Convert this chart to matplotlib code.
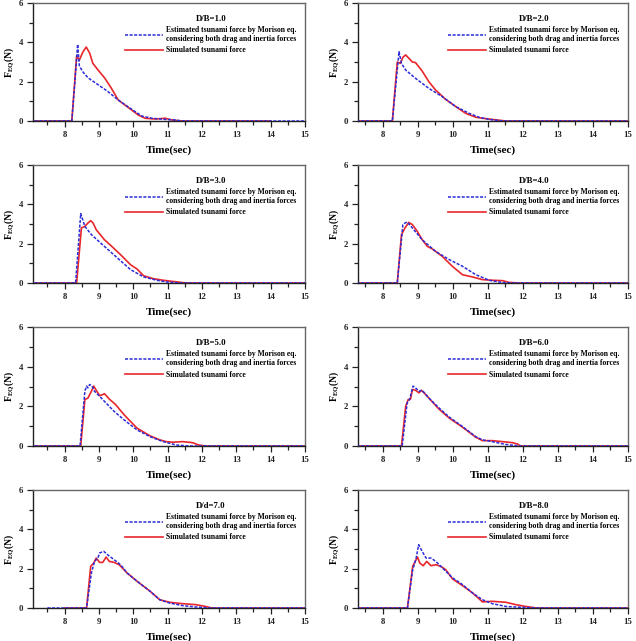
import matplotlib
matplotlib.use("Agg")
import matplotlib.pyplot as plt
from matplotlib.ticker import MultipleLocator

plt.rcParams['font.family'] = ['Liberation Serif', 'DejaVu Serif']
plt.rcParams['font.weight'] = 'bold'
plt.rcParams['mathtext.fontset'] = 'custom'
plt.rcParams['mathtext.rm'] = 'Liberation Serif:bold'
plt.rcParams['mathtext.it'] = 'Liberation Serif:bold'
plt.rcParams['mathtext.bf'] = 'Liberation Serif:bold'

titles = ["D/B=1.0", "D/B=2.0", "D/B=3.0", "D/B=4.0",
          "D/B=5.0", "D/B=6.0", "D/d=7.0", "D/B=8.0"]

# Estimated (Morison) force
est_t = [
    [7.0, 8.21, 8.30, 8.38, 8.43, 8.53, 8.68, 8.97, 9.26, 9.56, 9.95, 10.25, 10.54, 10.93, 11.23, 11.42, 15.0],
    [7.0, 8.28, 8.47, 8.54, 8.66, 8.94, 9.32, 9.70, 10.09, 10.47, 10.75, 11.04, 11.42, 15.0],
    [7.0, 8.32, 8.47, 8.59, 8.78, 9.16, 9.54, 9.92, 10.30, 10.68, 11.06, 11.44, 15.0],
    [7.0, 8.42, 8.58, 8.64, 8.70, 8.85, 9.13, 9.51, 9.90, 10.28, 10.66, 11.04, 11.42, 11.8, 15.0],
    [7.0, 8.45, 8.59, 8.64, 8.68, 8.73, 8.80, 8.87, 9.02, 9.16, 9.44, 9.73, 10.11, 10.49, 10.87, 11.25, 11.63, 15.0],
    [7.0, 8.56, 8.70, 8.77, 8.87, 8.94, 9.04, 9.13, 9.32, 9.61, 9.90, 10.28, 10.66, 10.85, 11.13, 11.51, 11.9, 15.0],
    [7.5, 8.64, 8.78, 8.87, 8.97, 9.02, 9.14, 9.25, 9.44, 9.63, 9.82, 10.11, 10.49, 10.77, 11.06, 11.44, 11.82, 12.2, 15.0],
    [7.0, 8.71, 8.86, 8.95, 9.03, 9.13, 9.24, 9.38, 9.52, 9.71, 10.0, 10.28, 10.57, 10.85, 11.13, 11.52, 12.0, 12.4, 15.0],
]
est_f = [
    [0, 0, 2.0, 3.9, 2.8, 2.5, 2.2, 1.85, 1.5, 1.07, 0.6, 0.25, 0.14, 0.08, 0.05, 0, 0],
    [0, 0, 3.53, 2.93, 2.59, 2.17, 1.66, 1.24, 0.73, 0.39, 0.19, 0.08, 0, 0],
    [0, 0, 3.53, 2.88, 2.46, 1.86, 1.27, 0.68, 0.31, 0.14, 0.03, 0, 0],
    [0, 0, 2.97, 3.05, 3.1, 2.8, 2.2, 1.61, 1.19, 0.85, 0.42, 0.14, 0.02, 0, 0],
    [0, 0, 2.76, 3.02, 2.93, 3.1, 3.02, 2.76, 2.51, 2.25, 1.75, 1.32, 0.81, 0.47, 0.22, 0.05, 0, 0],
    [0, 0, 2.17, 2.34, 3.02, 2.93, 2.76, 2.81, 2.42, 1.92, 1.46, 0.98, 0.47, 0.31, 0.22, 0.08, 0, 0],
    [0, 0, 1.78, 2.37, 2.54, 2.80, 2.88, 2.71, 2.46, 2.20, 1.78, 1.36, 0.85, 0.42, 0.25, 0.12, 0.05, 0, 0],
    [0, 0, 1.95, 2.46, 3.22, 2.88, 2.54, 2.54, 2.37, 2.03, 1.53, 1.19, 0.76, 0.42, 0.22, 0.08, 0.03, 0, 0],
]

# Simulated force
sim_t = [
    [7.0, 8.21, 8.35, 8.43, 8.53, 8.63, 8.73, 8.82, 8.97, 9.17, 9.36, 9.56, 9.75, 9.95, 10.15, 10.34, 10.64, 10.93, 11.13, 11.42, 14.0],
    [7.0, 8.28, 8.42, 8.51, 8.58, 8.66, 8.75, 8.85, 8.94, 9.13, 9.32, 9.51, 9.80, 10.09, 10.37, 10.66, 10.85, 11.13, 11.42, 11.5, 15.0],
    [7.0, 8.35, 8.49, 8.59, 8.68, 8.76, 8.83, 8.92, 9.16, 9.35, 9.63, 9.92, 10.11, 10.30, 10.58, 10.87, 11.15, 11.44, 11.63, 15.0],
    [7.0, 8.42, 8.54, 8.64, 8.75, 8.85, 8.99, 9.13, 9.28, 9.42, 9.70, 9.99, 10.28, 10.56, 10.85, 11.13, 11.42, 11.61, 11.9, 15.0],
    [7.0, 8.47, 8.59, 8.68, 8.78, 8.85, 8.92, 9.02, 9.11, 9.16, 9.30, 9.49, 9.73, 10.11, 10.49, 10.77, 10.96, 11.15, 11.44, 11.72, 11.91, 12.1, 15.0],
    [7.0, 8.54, 8.66, 8.73, 8.80, 8.85, 8.94, 9.04, 9.11, 9.23, 9.61, 9.90, 10.28, 10.66, 10.85, 11.13, 11.42, 11.70, 11.85, 11.94, 15.0],
    [8.0, 8.64, 8.76, 8.85, 8.92, 9.02, 9.11, 9.21, 9.30, 9.44, 9.59, 9.82, 10.11, 10.49, 10.77, 11.06, 11.44, 11.82, 12.10, 12.29, 15.0],
    [7.0, 8.71, 8.86, 8.93, 9.0, 9.06, 9.16, 9.26, 9.38, 9.52, 9.66, 9.80, 10.0, 10.28, 10.57, 10.85, 11.13, 11.52, 11.80, 12.08, 12.4, 15.0],
]
sim_f = [
    [0, 0, 3.3, 3.1, 3.5, 3.76, 3.45, 2.94, 2.6, 2.18, 1.67, 1.07, 0.82, 0.56, 0.30, 0.14, 0.10, 0.14, 0.05, 0, 0],
    [0, 0, 3.0, 2.93, 3.24, 3.36, 3.19, 3.0, 2.97, 2.54, 2.0, 1.58, 1.10, 0.73, 0.39, 0.19, 0.14, 0.08, 0.02, 0, 0],
    [0, 0, 2.8, 2.88, 3.05, 3.17, 3.05, 2.71, 2.2, 1.9, 1.44, 0.93, 0.71, 0.37, 0.22, 0.14, 0.08, 0.02, 0, 0],
    [0, 0, 2.46, 2.8, 3.08, 2.97, 2.63, 2.2, 1.86, 1.73, 1.36, 0.85, 0.42, 0.31, 0.17, 0.14, 0.12, 0.03, 0, 0],
    [0, 0, 2.34, 2.42, 2.76, 3.02, 2.81, 2.54, 2.59, 2.64, 2.37, 2.08, 1.58, 0.90, 0.51, 0.31, 0.22, 0.19, 0.22, 0.17, 0.05, 0, 0],
    [0, 0, 2.0, 2.34, 2.37, 2.85, 2.81, 2.68, 2.81, 2.59, 1.86, 1.41, 0.95, 0.44, 0.27, 0.27, 0.22, 0.17, 0.10, 0, 0],
    [0, 0, 2.12, 2.29, 2.54, 2.32, 2.32, 2.59, 2.37, 2.32, 2.2, 1.78, 1.36, 0.85, 0.42, 0.29, 0.22, 0.17, 0.08, 0, 0],
    [0, 0, 2.12, 2.37, 2.59, 2.29, 2.15, 2.37, 2.15, 2.2, 2.12, 1.95, 1.47, 1.14, 0.76, 0.31, 0.34, 0.29, 0.17, 0.08, 0, 0],
]

est_label = "Estimated tsunami force by Morison eq.\nconsidering both drag and inertia forces"
sim_label = "Simulated tsunami force"

W, H = 636, 641
fig = plt.figure(figsize=(W / 100, H / 100), dpi=100)

col_px = [(33, 305), (358, 628)]
col_xmin = [7.08, 7.3]
row_px = [(3, 121), (165, 283), (327, 446), (490, 608)]

for i in range(8):
    r, c = divmod(i, 2)
    x0, x1 = col_px[c]
    y0, y1 = row_px[r]
    ax = fig.add_axes([x0 / W, 1 - y1 / H, (x1 - x0) / W, (y1 - y0) / H])
    ax.plot(est_t[i], est_f[i], color='#2b2bd9', lw=1.1, ls=(0, (2.0, 1.0)),
            label=est_label, zorder=3)
    ax.plot(sim_t[i], sim_f[i], color='#e8262b', lw=1.2, label=sim_label, zorder=2)
    ax.set_xlim(col_xmin[c], 15)
    ax.set_ylim(0, 6)
    ax.set_xticks(list(range(8, 16)))
    ax.xaxis.set_minor_locator(MultipleLocator(0.5))
    ax.yaxis.set_major_locator(MultipleLocator(2))
    ax.yaxis.set_minor_locator(MultipleLocator(1))
    ax.tick_params(which='both', direction='out', top=False, right=False,
                   labelsize=6.3, width=0.9, colors='#222222')
    ax.tick_params(which='major', length=4.5, pad=2.5)
    ax.tick_params(which='minor', length=3)
    for lab in ax.get_xticklabels() + ax.get_yticklabels():
        lab.set_fontweight('bold')
    for s in ['left', 'bottom']:
        ax.spines[s].set_color('#222222')
        ax.spines[s].set_linewidth(1.0)
    for s in ['top', 'right']:
        ax.spines[s].set_color('#666666')
        ax.spines[s].set_linewidth(1.0)
    ax.set_xlabel("Time(sec)", fontsize=8, fontweight='bold', labelpad=5)
    ax.set_ylabel(r"F$_{\mathrm{EQ}}$(N)", fontsize=7, fontweight='bold', labelpad=2)
    leg = ax.legend(loc='upper right', bbox_to_anchor=(0.975, 0.91), frameon=False,
                    title=titles[i], fontsize=5.5, title_fontsize=6.3,
                    handlelength=5.0, handletextpad=0.4, labelspacing=0.4,
                    borderpad=0.2, borderaxespad=0.0)
    for t in leg.get_texts():
        t.set_fontweight('bold')
    leg.get_title().set_fontweight('bold')

fig.savefig("out.png", dpi=100)
